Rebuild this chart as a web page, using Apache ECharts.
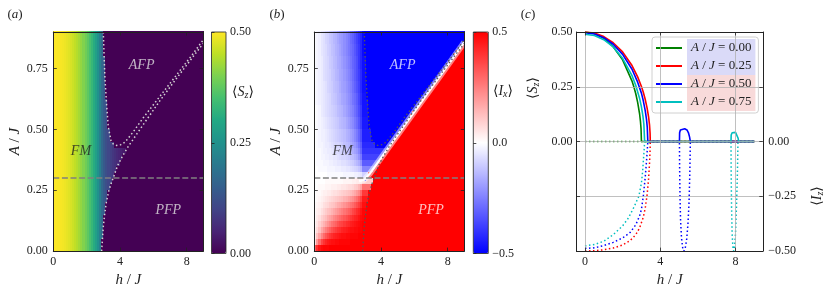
<!DOCTYPE html>
<html><head><meta charset="utf-8">
<script src="https://cdn.jsdelivr.net/npm/echarts@6.0.0/dist/echarts.min.js"></script>
<style>html,body{margin:0;padding:0;background:#fff}#c{width:831px;height:293px}</style>
</head><body><div id="c"></div>
<script>
const FONT = "'Liberation Serif','DejaVu Serif',serif";
const AX = '#222';

// ---------------- data: panels (a) and (b) ----------------
const hTicks = [0, 4, 8];
const aTicks = [0, 0.25, 0.5, 0.75];
const cellH = 0.125, cellA = 0.0125;   // map cell size in h/J and A/J
// <S_z> in FM phase, read along h (cell centres h = 0.0625 + 0.125 k)
const szFM = [0.500,0.499,0.497,0.495,0.492,0.488,0.483,0.477,0.470,0.462,0.453,0.443,0.432,0.419,0.405,0.390,
  0.373,0.354,0.333,0.309,0.282,0.251,0.214,0.170,0.140,0.120,0.105,0.092,0.080,0.070,0.060,0.052,0.045,0.038,0.030,0.025,
  0,0,0,0,0,0,0,0,0,0,0,0,0,0,0,0,0,0,0,0,0,0,0,0,0,0,0,0,0,0,0,0,0,0,0,0];
// h where the FM phase ends, read for A = 0.0125, 0.0375, ... 0.8875
const fmEdgeH = [2.90,2.92,2.95,2.98,3.02,3.06,3.11,3.16,3.22,3.30,3.40,3.53,3.66,3.79,3.94,4.12,4.33,
  3.62,3.42,3.35,3.30,3.27,3.24,3.21,3.19,3.17,3.15,3.13,3.11,3.10,3.08,3.07,3.06,3.04,3.03,3.02];
// <I_x> in FM phase. Columns: h = 0.0625..2.9375 (step 0.125).
// Rows: A = 0.0125..0.4375 (step 0.025), then A = 0.475..0.875 (step 0.05)
const ixFM = [
  [0.32,0.41,0.46,0.48,0.49,0.49,0.49,0.50,0.50,0.50,0.50,0.50,0.50,0.50,0.50,0.50,0.50,0.50,0.50,0.50,0.50,0.50,0.50,0.50],
  [0.07,0.20,0.29,0.36,0.40,0.43,0.45,0.46,0.47,0.47,0.48,0.48,0.49,0.49,0.49,0.49,0.49,0.50,0.50,0.50,0.50,0.50,0.50,0.50],
  [0.04,0.12,0.18,0.24,0.29,0.33,0.36,0.39,0.41,0.43,0.44,0.45,0.46,0.47,0.47,0.48,0.48,0.49,0.49,0.49,0.49,0.50,0.50,0.50],
  [0.03,0.07,0.12,0.17,0.21,0.25,0.28,0.31,0.34,0.36,0.38,0.40,0.41,0.43,0.44,0.45,0.46,0.47,0.47,0.48,0.48,0.49,0.49,0.50],
  [0.02,0.05,0.09,0.12,0.15,0.18,0.21,0.24,0.27,0.29,0.31,0.34,0.36,0.37,0.39,0.41,0.42,0.44,0.45,0.46,0.47,0.48,0.49,0.50],
  [0.01,0.04,0.06,0.09,0.11,0.13,0.16,0.18,0.20,0.23,0.25,0.27,0.29,0.31,0.33,0.35,0.37,0.39,0.41,0.43,0.44,0.46,0.48,0.49],
  [0.01,0.03,0.04,0.06,0.08,0.10,0.12,0.13,0.15,0.17,0.19,0.21,0.23,0.25,0.27,0.29,0.31,0.33,0.36,0.38,0.41,0.43,0.46,0.49],
  [0.01,0.02,0.03,0.04,0.06,0.07,0.08,0.10,0.11,0.12,0.14,0.16,0.17,0.19,0.21,0.23,0.25,0.27,0.29,0.32,0.35,0.38,0.42,0.47],
  [0.00,0.01,0.02,0.03,0.04,0.05,0.06,0.07,0.08,0.09,0.10,0.11,0.12,0.13,0.15,0.16,0.18,0.20,0.22,0.25,0.28,0.32,0.37,0.45],
  [0.00,0.01,0.01,0.02,0.03,0.03,0.04,0.04,0.05,0.06,0.06,0.07,0.08,0.09,0.10,0.11,0.12,0.13,0.15,0.17,0.20,0.23,0.29,0.39],
  [0.00,0.00,0.01,0.01,0.01,0.02,0.02,0.02,0.03,0.03,0.03,0.04,0.04,0.05,0.05,0.06,0.07,0.07,0.08,0.10,0.11,0.14,0.18,0.28],
  [0.00,0.00,0.00,0.00,0.00,0.01,0.01,0.01,0.01,0.01,0.01,0.01,0.01,0.01,0.02,0.02,0.02,0.02,0.03,0.03,0.04,0.04,0.06,0.10],
  [0.00,0.00,0.00,0.00,0.00,0.00,-0.01,-0.01,-0.01,-0.01,-0.01,-0.01,-0.01,-0.01,-0.02,-0.02,-0.02,-0.02,-0.02,-0.03,-0.03,-0.04,-0.05,-0.09],
  [0.00,0.00,-0.01,-0.01,-0.01,-0.01,-0.02,-0.02,-0.02,-0.02,-0.03,-0.03,-0.03,-0.04,-0.04,-0.05,-0.05,-0.06,-0.07,-0.08,-0.09,-0.11,-0.14,-0.24],
  [0.00,-0.01,-0.01,-0.01,-0.02,-0.02,-0.02,-0.03,-0.03,-0.04,-0.04,-0.05,-0.05,-0.06,-0.06,-0.07,-0.08,-0.09,-0.10,-0.12,-0.14,-0.16,-0.21,-0.32],
  [0.00,-0.01,-0.01,-0.02,-0.02,-0.03,-0.03,-0.04,-0.04,-0.05,-0.05,-0.06,-0.07,-0.08,-0.08,-0.09,-0.10,-0.12,-0.13,-0.15,-0.17,-0.21,-0.26,-0.37],
  [0.00,-0.01,-0.01,-0.02,-0.03,-0.03,-0.04,-0.04,-0.05,-0.06,-0.07,-0.07,-0.08,-0.09,-0.10,-0.11,-0.12,-0.14,-0.16,-0.18,-0.20,-0.24,-0.30,-0.40],
  [0.00,-0.01,-0.02,-0.02,-0.03,-0.04,-0.04,-0.05,-0.06,-0.07,-0.08,-0.08,-0.09,-0.10,-0.12,-0.13,-0.14,-0.16,-0.18,-0.20,-0.23,-0.27,-0.32,-0.42],
  [0.00,-0.01,-0.02,-0.03,-0.03,-0.04,-0.05,-0.06,-0.07,-0.08,-0.09,-0.10,-0.11,-0.12,-0.13,-0.15,-0.16,-0.18,-0.20,-0.23,-0.26,-0.30,-0.35,-0.44],
  [0.00,-0.01,-0.02,-0.03,-0.04,-0.05,-0.06,-0.07,-0.08,-0.09,-0.10,-0.11,-0.13,-0.14,-0.15,-0.17,-0.19,-0.21,-0.23,-0.26,-0.29,-0.33,-0.38,-0.45],
  [0.00,-0.01,-0.02,-0.04,-0.05,-0.06,-0.07,-0.08,-0.09,-0.10,-0.11,-0.13,-0.14,-0.15,-0.17,-0.19,-0.21,-0.23,-0.25,-0.28,-0.31,-0.35,-0.39,-0.46],
  [-0.01,-0.02,-0.03,-0.04,-0.05,-0.06,-0.07,-0.08,-0.10,-0.11,-0.12,-0.14,-0.15,-0.17,-0.18,-0.20,-0.22,-0.24,-0.27,-0.29,-0.32,-0.36,-0.41,-0.46],
  [-0.01,-0.02,-0.03,-0.04,-0.05,-0.06,-0.08,-0.09,-0.10,-0.12,-0.13,-0.14,-0.16,-0.18,-0.19,-0.21,-0.23,-0.25,-0.28,-0.31,-0.34,-0.37,-0.42,-0.47],
  [-0.01,-0.02,-0.03,-0.04,-0.06,-0.07,-0.08,-0.09,-0.11,-0.12,-0.14,-0.15,-0.17,-0.18,-0.20,-0.22,-0.24,-0.26,-0.29,-0.32,-0.35,-0.38,-0.42,-0.47],
  [-0.01,-0.02,-0.03,-0.04,-0.06,-0.07,-0.08,-0.10,-0.11,-0.13,-0.14,-0.16,-0.17,-0.19,-0.21,-0.23,-0.25,-0.27,-0.30,-0.32,-0.35,-0.39,-0.43,-0.47],
  [-0.01,-0.02,-0.03,-0.05,-0.06,-0.07,-0.09,-0.10,-0.12,-0.13,-0.15,-0.16,-0.18,-0.20,-0.22,-0.24,-0.26,-0.28,-0.30,-0.33,-0.36,-0.39,-0.43,-0.48],
  [-0.01,-0.02,-0.03,-0.05,-0.06,-0.08,-0.09,-0.11,-0.12,-0.14,-0.15,-0.17,-0.19,-0.20,-0.22,-0.24,-0.26,-0.29,-0.31,-0.34,-0.37,-0.40,-0.43,-0.48]
];
// A of the AFP / PFP border (<I_x> = 0) read for h = 0.0625 .. 8.9375 (step 0.125)
const ixZeroA = [0.29,0.29,0.29,0.29,0.29,0.29,0.29,0.29,0.29,0.29,0.29,0.29,0.29,0.29,0.29,0.29,0.29,0.29,0.29,0.29,0.29,0.29,0.29,0.29,
  0.29,0.30,0.32,0.33,0.34,0.35,0.36,0.38,0.39,0.40,0.41,0.42,0.44,0.45,0.46,0.47,0.48,0.50,0.51,0.52,0.53,0.54,0.56,0.57,
  0.58,0.59,0.60,0.62,0.63,0.64,0.65,0.66,0.67,0.69,0.70,0.71,0.72,0.73,0.75,0.76,0.77,0.78,0.79,0.81,0.82,0.83,0.84,0.85];
// phase boundaries (h, A)
const lowerBoundary = [[2.90,0.0],[2.95,0.05],[3.0,0.1],[3.08,0.15],[3.18,0.2],[3.32,0.245],[3.48,0.28],[3.62,0.305],[3.85,0.35],
  [4.15,0.39],[4.5,0.43],[5.4,0.52],[6.4,0.618],[7.4,0.71],[8.4,0.8],[9.0,0.853]];
const upperBoundary = [[3.0,0.9],[3.05,0.8],[3.1,0.71],[3.2,0.6],[3.3,0.51],[3.46,0.454],[3.6,0.44],[3.8,0.434],[4.05,0.437],
  [4.3,0.447],[4.8,0.49],[5.4,0.548],[6.4,0.636],[7.4,0.724],[8.4,0.812],[8.9,0.859],[9.0,0.868]];
const ixZeroLine = [[2.7,0.287],[3.0,0.293],[3.34,0.319],[4.4,0.42],[5.4,0.515],[6.4,0.61],[7.4,0.705],[8.4,0.80],[9.0,0.858]];
const cutA = [[0,0.3],[9,0.3]];
const regionNames = ['FM','AFP','PFP'];
const regionPosA = [[1.66,0.41],[5.3,0.763],[6.9,0.167]];
const regionPosB = [[1.7,0.41],[5.3,0.763],[7.0,0.167]];

// ---------------- data: panel (c) ----------------
const legendNames = ['A / J = 0.00','A / J = 0.25','A / J = 0.50','A / J = 0.75'];
const lineColors = ['#008000','#ff0000','#0000ff','#00bfbf'];
const szA000 = [[0,0.5],[0.5,0.493],[1.0,0.471],[1.5,0.433],[2.0,0.373],[2.5,0.276],[2.6,0.249],[2.7,0.218],[2.8,0.179],[2.9,0.128],[2.95,0.091],[2.98,0.058],[3.0,0],[9.0,0]];
const szA025 = [[0,0.5],[0.5,0.495],[1.0,0.479],[1.5,0.451],[2.0,0.409],[2.5,0.347],[2.8,0.295],[3.0,0.251],[3.1,0.225],[3.2,0.193],[3.3,0.154],[3.38,0.113],[3.43,0.076],[3.46,0.038],[3.47,0],[9.0,0]];
const szA050 = [[0,0.497],[0.5,0.491],[1.0,0.474],[1.5,0.444],[2.0,0.398],[2.5,0.330],[2.8,0.271],[3.0,0.221],[3.1,0.186],[3.2,0.142],[3.27,0.101],[3.31,0.066],[3.34,0],[5.02,0],[5.03,0.04],[5.07,0.053],[5.15,0.058],[5.3,0.058],[5.42,0.053],[5.5,0.04],[5.56,0.02],[5.6,0],[9.0,0]];
const szA075 = [[0,0.49],[0.5,0.484],[1.0,0.465],[1.5,0.432],[2.0,0.38],[2.5,0.301],[2.7,0.256],[2.9,0.198],[3.0,0.158],[3.08,0.116],[3.13,0.078],[3.17,0],[7.76,0],[7.77,0.03],[7.82,0.04],[7.9,0.043],[8.0,0.042],[8.08,0.035],[8.14,0.015],[8.17,0],[9.0,0]];
const izA000 = [[0,0],[9.0,0]];
const izA025 = [[0,-0.5],[0.5,-0.498],[1.0,-0.494],[1.5,-0.486],[2.0,-0.472],[2.4,-0.452],[2.7,-0.425],[2.9,-0.395],[3.1,-0.345],[3.2,-0.305],[3.3,-0.245],[3.38,-0.17],[3.43,-0.1],[3.46,-0.04],[3.47,0],[9.0,0]];
const izA050 = [[0,-0.488],[0.5,-0.485],[1.0,-0.475],[1.5,-0.46],[2.0,-0.44],[2.4,-0.415],[2.7,-0.38],[2.9,-0.34],[3.0,-0.31],[3.1,-0.25],[3.2,-0.165],[3.27,-0.09],[3.31,-0.04],[3.34,0],[5.02,0],[5.03,-0.12],[5.05,-0.25],[5.08,-0.36],[5.13,-0.44],[5.2,-0.49],[5.25,-0.5],[5.32,-0.49],[5.4,-0.45],[5.47,-0.38],[5.53,-0.28],[5.57,-0.15],[5.6,0],[9.0,0]];
const izA075 = [[0,-0.476],[0.5,-0.47],[1.0,-0.455],[1.5,-0.425],[2.0,-0.385],[2.3,-0.35],[2.6,-0.3],[2.86,-0.25],[3.0,-0.19],[3.06,-0.14],[3.11,-0.08],[3.15,-0.03],[3.17,0],[7.76,0],[7.77,-0.15],[7.79,-0.3],[7.82,-0.42],[7.86,-0.48],[7.9,-0.5],[7.95,-0.48],[8.0,-0.42],[8.05,-0.3],[8.1,-0.15],[8.13,0],[9.0,0]];
const szSeries = [szA000, szA025, szA050, szA075];
const izSeries = [izA000, izA025, izA050, izA075];
const legendBg = ['#dadaf8','#dadaf8','#f8dada','#f8dada'];

const viridis = ['#440154','#482475','#414487','#355f8d','#2a788e','#21918c','#22a884','#44bf70','#7ad151','#bddf26','#fde725'];

// ---------------- build map tables ----------------
const NH = 72, NA = 72;
const dataSz = [], dataIx = [];
for (let i = 0; i < NA; i++) {
  const A = +(cellA / 2 + cellA * i).toFixed(5);
  const edge = fmEdgeH[Math.floor(i / 2)];
  const r = i < 36 ? Math.floor(i / 2) : 18 + Math.floor((i - 36) / 4);
  for (let j = 0; j < NH; j++) {
    const h = +(cellH / 2 + cellH * j).toFixed(4);
    const inFM = h < edge;
    dataSz.push([h, A, inFM ? szFM[j] : 0]);
    const above = A > ixZeroA[j];
    let ix;
    if (inFM && j < 24) ix = ixFM[r][j];
    else if (inFM) { const t = ixFM[r][23]; ix = above ? (t < 0 ? t : -0.5) : (t > 0 ? t : 0.5); }
    else ix = above ? -0.5 : 0.5;
    dataIx.push([h, A, ix]);
  }
}
// cells snapped to whole pixels so neighbouring cells meet without seams
function renderCell(params, api) {
  const c = api.coord([api.value(0), api.value(1)]);
  const s = api.size([cellH, cellA]);
  const x0 = Math.round(c[0] - s[0] / 2), x1 = Math.round(c[0] + s[0] / 2);
  const yt = Math.round(c[1] - s[1] / 2), yb = Math.round(c[1] + s[1] / 2);
  return {type: 'rect', shape: {x: x0, y: yt - 1, width: x1 - x0 + 1, height: yb - yt + 1},
    style: {fill: api.visual('color'), stroke: null}};
}

// ---------------- styles ----------------
const lab = {fontFamily: FONT, fontSize: 12, color: '#222'};
const nameStyle = {fontFamily: FONT, fontSize: 15, color: '#222', rich: {i: {fontFamily: FONT, fontSize: 15, fontStyle: 'italic', color: '#222'}}};
const spine = {show: true, onZero: false, lineStyle: {color: AX, width: 1}};
function tick(inside, vals) { const t = {show: true, inside: inside, length: 3.5, lineStyle: {color: AX, width: 0.8}}; if (vals) t.customValues = vals; return t; }
const f2 = v => v.toFixed(2);

const G = {top: 32, height: 221.5};
const grids = [
  {left: 53.3, width: 150, ...G},
  {left: 211.5, width: 14.5, ...G, show: true, borderColor: AX, borderWidth: 0.8, backgroundColor: 'transparent', z: 10},
  {left: 314.3, width: 150, ...G},
  {left: 473.3, width: 15, ...G, show: true, borderColor: AX, borderWidth: 0.8, backgroundColor: 'transparent', z: 10},
  {left: 576.5, width: 186.3, ...G}
];

function heatPanelX(g) {
  return [
    {type: 'value', gridIndex: g, position: 'bottom', min: 0, max: 9, z: 10, axisLine: spine, axisTick: tick(true, hTicks),
      axisLabel: {...lab, margin: 5, customValues: hTicks, formatter: v => String(v)}, splitLine: {show: false},
      name: '{i|h} / {i|J}', nameLocation: 'middle', nameGap: 17, nameTextStyle: nameStyle},
    {type: 'value', gridIndex: g, position: 'top', min: 0, max: 9, z: 10, axisLine: spine, axisTick: tick(true, hTicks),
      axisLabel: {show: false}, splitLine: {show: false}}
  ];
}
function heatPanelY(g, gap) {
  return [
    {type: 'value', gridIndex: g, position: 'left', min: 0, max: 0.9, z: 10, axisLine: spine, axisTick: tick(true, aTicks),
      axisLabel: {...lab, margin: 5.5, customValues: aTicks, formatter: f2}, splitLine: {show: false},
      name: '{i|A} / {i|J}', nameLocation: 'middle', nameGap: gap, nameTextStyle: nameStyle},
    {type: 'value', gridIndex: g, position: 'right', min: 0, max: 0.9, z: 10, axisLine: spine, axisTick: tick(true, aTicks),
      axisLabel: {show: false}, splitLine: {show: false}}
  ];
}
const hiddenX = g => ({type: 'value', gridIndex: g, show: false, min: 0, max: 1});

const xAxis = [
  ...heatPanelX(0),            // 0,1
  hiddenX(1),                  // 2
  ...heatPanelX(2),            // 3,4
  hiddenX(3),                  // 5
  {type: 'value', gridIndex: 4, position: 'bottom', min: -0.45, max: 9.45, z: 10, axisLine: spine, axisTick: tick(true, hTicks),
    axisLabel: {...lab, margin: 5, customValues: hTicks, formatter: v => String(v)},
    splitLine: {show: true, lineStyle: {color: '#b0b0b0', width: 0.8}},
    name: '{i|h} / {i|J}', nameLocation: 'middle', nameGap: 17, nameTextStyle: nameStyle},   // 6
  {type: 'value', gridIndex: 4, position: 'top', min: -0.45, max: 9.45, z: 10, axisLine: spine, axisTick: tick(true, hTicks),
    axisLabel: {show: false}, splitLine: {show: false}}   // 7
];
const yAxis = [
  ...heatPanelY(0, 31),        // 0,1
  {type: 'value', gridIndex: 1, position: 'right', min: 0, max: 0.5, z: 11, axisLine: {show: false}, axisTick: {show: true, inside: false, length: 3, lineStyle: {color: AX, width: 0.8}, customValues: [0, 0.25, 0.5]},
    axisLabel: {...lab, margin: 4, customValues: [0, 0.25, 0.5], formatter: f2}, splitLine: {show: false}},  // 2
  ...heatPanelY(2, 27.5),      // 3,4
  {type: 'value', gridIndex: 3, position: 'right', min: -0.5, max: 0.5, z: 11, axisLine: {show: false}, axisTick: {show: true, inside: false, length: 3, lineStyle: {color: AX, width: 0.8}, customValues: [-0.5, 0, 0.5]},
    axisLabel: {...lab, margin: 4, customValues: [-0.5, 0, 0.5], formatter: v => (v < 0 ? '\u2212' : '') + Math.abs(v).toFixed(1)}, splitLine: {show: false}}, // 5
  {type: 'value', gridIndex: 4, position: 'left', min: -0.5, max: 0.5, interval: 0.25, z: 10, axisLine: spine, axisTick: tick(true),
    axisLabel: {...lab, margin: 4, formatter: v => v < -0.001 ? '' : Math.abs(v).toFixed(2)},
    splitLine: {show: true, lineStyle: {color: '#b0b0b0', width: 0.8}}},  // 6
  {type: 'value', gridIndex: 4, position: 'right', min: -0.5, max: 0.5, interval: 0.25, z: 10, axisLine: spine, axisTick: tick(true),
    axisLabel: {...lab, margin: 5.5, formatter: v => v > 0.001 ? '' : (v < -0.001 ? '\u2212' + Math.abs(v).toFixed(2) : '0.00')},
    splitLine: {show: false}}  // 7
];

const dotted = [1.5, 2.5];
function lineS(xi, yi, data, color, width, type, extra) {
  return Object.assign({type: 'line', xAxisIndex: xi, yAxisIndex: yi, data: data, showSymbol: false, symbol: 'none', silent: true,
    animation: false, lineStyle: {color: color, width: width, type: type, cap: 'butt'}, itemStyle: {color: color}, z: 4}, extra || {});
}
function labelsS(xi, yi, pos, colors) {
  return {type: 'scatter', xAxisIndex: xi, yAxisIndex: yi, symbolSize: 0, silent: true, animation: false, z: 6,
    data: regionNames.map((n, k) => ({name: n, value: pos[k], label: {color: colors[k]}})),
    label: {show: true, position: 'inside', formatter: '{b}', fontFamily: FONT, fontStyle: 'italic', fontSize: 14}};
}

const series = [
  {type: 'custom', xAxisIndex: 0, yAxisIndex: 0, data: dataSz, renderItem: renderCell, silent: true, animation: false, z: 1, clip: true},
  {type: 'custom', xAxisIndex: 3, yAxisIndex: 3, data: dataIx, renderItem: renderCell, silent: true, animation: false, z: 1, clip: true},
  // panel a overlays
  lineS(0, 0, lowerBoundary, '#d4d4d4', 1.5, dotted),
  lineS(0, 0, upperBoundary, '#d4d4d4', 1.5, dotted),
  lineS(0, 0, cutA, '#808080', 1.5, [6, 2.6]),
  labelsS(0, 0, regionPosA, ['#222', '#e0e0e0', '#e0e0e0']),
  // panel b overlays
  lineS(3, 3, ixZeroLine, 'rgba(255,255,255,0.5)', 6, 'solid'),
  lineS(3, 3, ixZeroLine, '#ffffff', 2.2, 'solid'),
  lineS(3, 3, lowerBoundary, '#555555', 1.3, dotted),
  lineS(3, 3, upperBoundary, '#555555', 1.3, dotted),
  lineS(3, 3, cutA, '#808080', 1.5, [6, 2.6]),
  labelsS(3, 3, regionPosB, ['#222', '#eeeeff', '#ffeeee'])
];
izSeries.forEach((d, k) => series.push(lineS(6, 7, d, lineColors[k], 1.5, dotted, {name: 'iz' + k})));
szSeries.forEach((d, k) => series.push(lineS(6, 6, d, lineColors[k], 1.6, 'solid', {name: legendNames[k], z: 5})));

const richI = {fontFamily: FONT, fontSize: 14, fontStyle: 'italic', fill: '#222'};
const richS = {fontFamily: FONT, fontSize: 10, fontStyle: 'italic', fill: '#222', padding: [7, 0, 0, 0]};
function gtext(x, y, text, size, rot) {
  return {type: 'text', x: x, y: y, rotation: rot || 0, silent: true, z: 20,
    style: {text: text, fill: '#222', fontFamily: FONT, fontSize: size, align: 'center', verticalAlign: 'middle',
      rich: {i: Object.assign({}, richI, {fontSize: size}), s: richS}}};
}

const option = {
  animation: false,
  backgroundColor: '#fff',
  grid: grids,
  xAxis: xAxis,
  yAxis: yAxis,
  visualMap: [
    {type: 'continuous', seriesIndex: 0, dimension: 2, min: 0, max: 0.5, inRange: {color: viridis},
      show: true, left: 211.5, top: 32, itemWidth: 14.5, itemHeight: 221.5, padding: 0, calculable: false, text: null, hoverLink: false},
    {type: 'continuous', seriesIndex: 1, dimension: 2, min: -0.5, max: 0.5, inRange: {color: ['#0000ff', '#ffffff', '#ff0000']},
      show: true, left: 473.3, top: 32, itemWidth: 15, itemHeight: 221.5, padding: 0, calculable: false, text: null, hoverLink: false}
  ],
  legend: {
    data: legendNames.map((n, k) => ({name: n, textStyle: {backgroundColor: legendBg[k], padding: [2, 4, 2, 4]}})),
    orient: 'vertical', left: 652, top: 37, itemGap: 0, itemWidth: 26, itemHeight: 2, icon: 'rect',
    padding: [2, 3, 2, 4], backgroundColor: '#ffffff', borderColor: '#d0d0d0', borderWidth: 1, borderRadius: 3,
    selectedMode: false,
    formatter: n => n.replace('A', '{i|A}').replace('J', '{i|J}'),
    textStyle: {fontFamily: FONT, fontSize: 13, color: '#222', lineHeight: 14,
      rich: {i: {fontFamily: FONT, fontSize: 13, fontStyle: 'italic', color: '#222', lineHeight: 14}}}
  },
  graphic: [
    gtext(15, 15, '({i|a})', 13),
    gtext(277, 15, '({i|b})', 13),
    gtext(528, 15, '({i|c})', 13),
    gtext(243, 92, '\u27E8{i|S}{s|z}\u27E9', 14),
    gtext(503, 91, '\u27E8{i|I}{s|x}\u27E9', 14),
    gtext(533, 88, '\u27E8{i|S}{s|z}\u27E9', 14, Math.PI / 2),
    gtext(817, 196, '\u27E8{i|I}{s|z}\u27E9', 14, Math.PI / 2)
  ],
  series: series
};

const chart = echarts.init(document.getElementById('c'), null, {renderer: 'canvas'});
chart.setOption(option);
</script>
</body></html>
